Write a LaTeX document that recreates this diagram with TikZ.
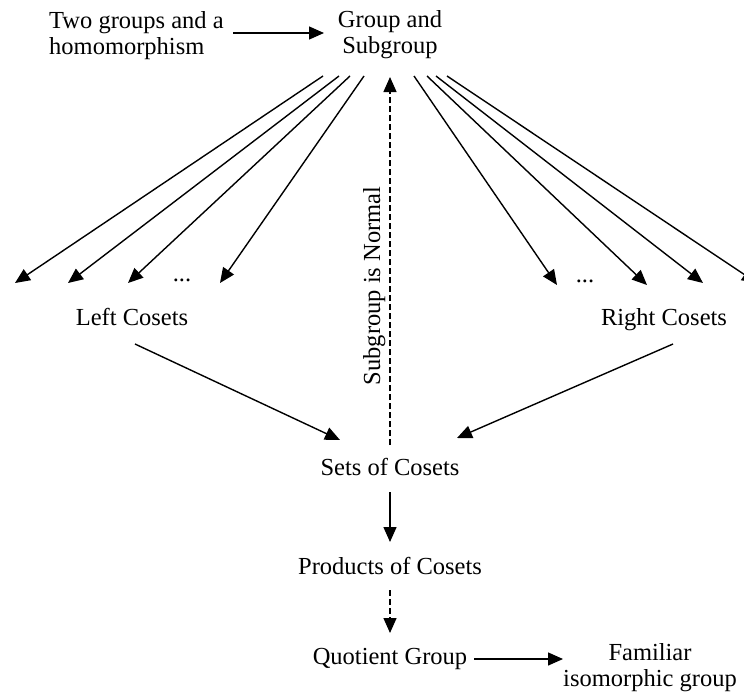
\documentclass[tikz,border=0pt]{standalone}
\usepackage{fontspec}
\setmainfont{Liberation Serif}
\usetikzlibrary{arrows.meta}
\begin{document}
\begin{tikzpicture}[x=1pt,y=-1pt,
  every node/.style={font=\fontsize{24.5}{26.5}\selectfont, inner sep=0pt},
  arr/.style={line width=1.4pt, -{Triangle[length=15pt,width=13pt]}},
  dasharr/.style={arr, dash pattern=on 6pt off 3pt},
  lbl/.style={anchor=base}]
\useasboundingbox (0,0) rectangle (744,691);
\clip (0,0) rectangle (744,691);

% texts
\node[anchor=north west, align=left] (two) at (49,11) {Two groups and a\\homomorphism};
\node[anchor=north, align=center] (grp) at (390,10) {Group and\\Subgroup};
\node[lbl] (ldots) at (182,281) {...};
\node[lbl] (rdots) at (585,282) {...};
\node[lbl] (lc) at (132,325) {Left Cosets};
\node[lbl] (rc) at (664,325) {Right Cosets};
\node[lbl, rotate=90] (norm) at (380,286) {Subgroup is Normal};
\node[lbl] (sets) at (390,475) {Sets of Cosets};
\node[lbl] (prod) at (390,574) {Products of Cosets};
\node[lbl] (quot) at (390,664) {Quotient Group};
\node[anchor=north, align=center] (fam) at (650,643) {Familiar\\isomorphic group};

% fan coordinates
\coordinate (gl1) at (323,76); \coordinate (gl2) at (339,76);
\coordinate (gl3) at (350,76); \coordinate (gl4) at (364,76);
\coordinate (gr1) at (414,76); \coordinate (gr2) at (427,76);
\coordinate (gr3) at (436,76); \coordinate (gr4) at (447,76);
\coordinate (l1) at (15,283);  \coordinate (l2) at (68,283);
\coordinate (l3) at (128,283); \coordinate (l4) at (220,283);
\coordinate (r1) at (557,285); \coordinate (r2) at (647,285);
\coordinate (r3) at (703,283); \coordinate (r4) at (757,283);

\draw[arr] (gl1) -- (l1);
\draw[arr] (gl2) -- (l2);
\draw[arr] (gl3) -- (l3);
\draw[arr] (gl4) -- (l4);
\draw[arr] (gr1) -- (r1);
\draw[arr] (gr2) -- (r2);
\draw[arr] (gr3) -- (r3);
\draw[arr] (gr4) -- (r4);

% top arrow
\coordinate (ta) at (233,33); \coordinate (tb) at (324,33);
\draw[arr] (ta) -- (tb);

% cosets to sets
\coordinate (lcs) at (135,344); \coordinate (lce) at (340,440);
\coordinate (rcs) at (673,344); \coordinate (rce) at (457,438);
\draw[arr] (lcs) -- (lce);
\draw[arr] (rcs) -- (rce);

% vertical
\coordinate (vs) at (390,445); \coordinate (ve) at (390,77);
\draw[dasharr] (vs) -- (ve);
\coordinate (s1) at (390,492); \coordinate (s2) at (390,542);
\draw[arr] (s1) -- (s2);
\coordinate (p1) at (390,590); \coordinate (p2) at (390,633);
\draw[dasharr] (p1) -- (p2);
\coordinate (q1) at (474,659); \coordinate (q2) at (563,659);
\draw[arr] (q1) -- (q2);
\end{tikzpicture}
\end{document}
